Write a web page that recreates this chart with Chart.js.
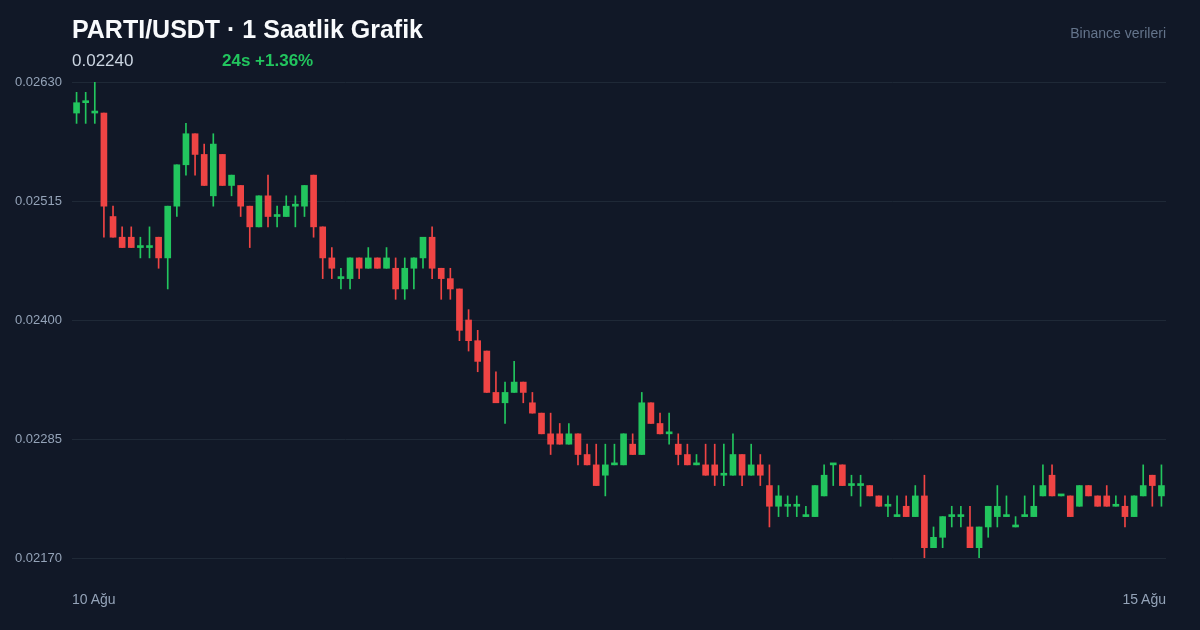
<!DOCTYPE html>
<html lang="tr">
<head>
  <meta charset="UTF-8" />
  <title>PARTI/USDT · 1 Saatlik Grafik</title>
  <script src="https://cdn.jsdelivr.net/npm/chart.js"></script>
  <style>
    body {
      margin: 0;
      width: 1200px;
      height: 630px;
      overflow: hidden;
      position: relative;
      background: #111827;
      font-family: "Liberation Sans", Arial, sans-serif;
    }
    #candles { position: absolute; left: 0; top: 0; }
    .txt { position: absolute; line-height: 1; white-space: nowrap; }
    .title { left: 72px; top: 17px; font-size: 25px; font-weight: bold; color: #f8fafc; }
    .price { left: 72px; top: 52px; font-size: 17px; color: #cbd5e1; }
    .change { left: 222px; top: 52px; font-size: 17px; font-weight: bold; color: #22c55e; }
    .source { right: 34px; top: 26px; font-size: 14px; color: #64748b; }
    .date { top: 592px; font-size: 14px; color: #94a3b8; }
  </style>
</head>
<body>
  <canvas id="candles" width="1200" height="630"></canvas>

  <div class="txt title">PARTI/USDT · 1 Saatlik Grafik</div>
  <div class="txt price">0.02240</div>
  <div class="txt change">24s +1.36%</div>
  <div class="txt source">Binance verileri</div>
  <div class="txt date" style="left:72px">10 Ağu</div>
  <div class="txt date" style="right:34px">15 Ağu</div>

  <script>
    // hourly candles, 10 Ağu -> 15 Ağu
    const opens = [
      0.0260,0.0261,0.0260,0.0260,0.0250,0.0248,0.0248,0.0247,0.0247,0.0248,
      0.0246,0.0251,0.0255,0.0258,0.0256,0.0252,0.0256,0.0253,0.0253,0.0251,
      0.0249,0.0252,0.0250,0.0250,0.0251,0.0251,0.0254,0.0249,0.0246,0.0244,
      0.0244,0.0246,0.0245,0.0246,0.0245,0.0245,0.0243,0.0245,0.0246,0.0248,
      0.0245,0.0244,0.0243,0.0240,0.0238,0.0237,0.0233,0.0232,0.0233,0.0234,
      0.0232,0.0231,0.0229,0.0229,0.0228,0.0229,0.0227,0.0226,0.0225,0.0226,
      0.0226,0.0228,0.0227,0.0232,0.0230,0.0229,0.0228,0.0227,0.0226,0.0226,
      0.0226,0.0225,0.0225,0.0227,0.0225,0.0226,0.0224,0.0222,0.0222,0.0222,
      0.0221,0.0221,0.0223,0.0226,0.0226,0.0224,0.0224,0.0224,0.0223,0.0222,
      0.0221,0.0222,0.0221,0.0223,0.0218,0.0219,0.0221,0.0221,0.0220,0.0218,
      0.0220,0.0221,0.0221,0.0220,0.0221,0.0221,0.0223,0.0225,0.0223,0.0223,
      0.0222,0.0224,0.0223,0.0223,0.0222,0.0222,0.0221,0.0223,0.0225,0.0223
    ];
    const highs = [
      0.0262,0.0262,0.0263,0.0260,0.0251,0.0249,0.0249,0.0248,0.0249,0.0248,
      0.0251,0.0255,0.0259,0.0258,0.0257,0.0258,0.0256,0.0254,0.0253,0.0251,
      0.0252,0.0254,0.0251,0.0252,0.0252,0.0253,0.0254,0.0249,0.0247,0.0245,
      0.0246,0.0246,0.0247,0.0246,0.0247,0.0246,0.0246,0.0246,0.0248,0.0249,
      0.0245,0.0245,0.0243,0.0241,0.0239,0.0237,0.0235,0.0234,0.0236,0.0234,
      0.0233,0.0231,0.0231,0.0230,0.0230,0.0229,0.0228,0.0228,0.0228,0.0228,
      0.0229,0.0229,0.0233,0.0232,0.0231,0.0231,0.0229,0.0228,0.0227,0.0228,
      0.0228,0.0228,0.0229,0.0227,0.0228,0.0227,0.0226,0.0224,0.0223,0.0223,
      0.0222,0.0224,0.0226,0.0226,0.0226,0.0225,0.0225,0.0224,0.0223,0.0223,
      0.0223,0.0223,0.0224,0.0225,0.0220,0.0221,0.0222,0.0222,0.0222,0.0220,
      0.0222,0.0224,0.0223,0.0221,0.0223,0.0224,0.0226,0.0226,0.0223,0.0223,
      0.0224,0.0224,0.0223,0.0224,0.0223,0.0223,0.0223,0.0226,0.0225,0.0226
    ];
    const lows = [
      0.0259,0.0259,0.0259,0.0248,0.0248,0.0247,0.0247,0.0246,0.0246,0.0245,
      0.0243,0.0250,0.0254,0.0254,0.0253,0.0251,0.0253,0.0252,0.0250,0.0247,
      0.0249,0.0249,0.0249,0.0250,0.0249,0.0250,0.0248,0.0244,0.0244,0.0243,
      0.0243,0.0244,0.0245,0.0245,0.0245,0.0242,0.0242,0.0243,0.0245,0.0244,
      0.0242,0.0242,0.0238,0.0237,0.0235,0.0233,0.0232,0.0230,0.0233,0.0232,
      0.0231,0.0229,0.0227,0.0228,0.0228,0.0226,0.0226,0.0224,0.0223,0.0226,
      0.0226,0.0227,0.0227,0.0230,0.0229,0.0228,0.0226,0.0226,0.0226,0.0225,
      0.0224,0.0224,0.0225,0.0224,0.0225,0.0224,0.0220,0.0221,0.0221,0.0221,
      0.0221,0.0221,0.0223,0.0224,0.0224,0.0223,0.0222,0.0223,0.0222,0.0221,
      0.0221,0.0221,0.0221,0.0217,0.0218,0.0218,0.0220,0.0220,0.0218,0.0217,
      0.0219,0.0220,0.0221,0.0220,0.0221,0.0221,0.0223,0.0223,0.0223,0.0221,
      0.0222,0.0223,0.0222,0.0222,0.0222,0.0220,0.0221,0.0223,0.0222,0.0222
    ];
    const closes = [
      0.0261,0.0261,0.0260,0.0251,0.0248,0.0247,0.0247,0.0247,0.0247,0.0246,
      0.0251,0.0255,0.0258,0.0256,0.0253,0.0257,0.0253,0.0254,0.0251,0.0249,
      0.0252,0.0250,0.0250,0.0251,0.0251,0.0253,0.0249,0.0246,0.0245,0.0244,
      0.0246,0.0245,0.0246,0.0245,0.0246,0.0243,0.0245,0.0246,0.0248,0.0245,
      0.0244,0.0243,0.0239,0.0238,0.0236,0.0233,0.0232,0.0233,0.0234,0.0233,
      0.0231,0.0229,0.0228,0.0228,0.0229,0.0227,0.0226,0.0224,0.0226,0.0226,
      0.0229,0.0227,0.0232,0.0230,0.0229,0.0229,0.0227,0.0226,0.0226,0.0225,
      0.0225,0.0225,0.0227,0.0225,0.0226,0.0225,0.0222,0.0223,0.0222,0.0222,
      0.0221,0.0224,0.0225,0.0226,0.0224,0.0224,0.0224,0.0223,0.0222,0.0222,
      0.0221,0.0221,0.0223,0.0218,0.0219,0.0221,0.0221,0.0221,0.0218,0.0220,
      0.0222,0.0222,0.0221,0.0220,0.0221,0.0222,0.0224,0.0223,0.0223,0.0221,
      0.0224,0.0223,0.0222,0.0222,0.0222,0.0221,0.0223,0.0224,0.0224,0.0224
    ];
    const yTicks = [0.0217, 0.02285, 0.024, 0.02515, 0.0263];

    const UP = '#22c55e';
    const DOWN = '#ef4444';
    const FONT = '"Liberation Sans", Arial, sans-serif';

    const labels = opens.map((_, i) =>
      (10 + Math.floor(i / 24)) + ' Ağu ' + String(i % 24).padStart(2, '0') + ':00');
    const colors = opens.map((o, i) => closes[i] >= o ? UP : DOWN);

    new Chart(document.getElementById('candles'), {
      type: 'bar',
      data: {
        labels: labels,
        datasets: [
          {
            label: 'body',
            data: opens.map((o, i) => [o, closes[i]]),
            backgroundColor: colors,
            barThickness: 6,
            minBarLength: 2,
            grouped: false,
            order: 0
          },
          {
            label: 'wick',
            data: lows.map((l, i) => [l, highs[i]]),
            backgroundColor: colors,
            barThickness: 1,
            grouped: false,
            order: 1
          }
        ]
      },
      options: {
        responsive: false,
        animation: false,
        devicePixelRatio: 1,
        layout: { padding: { left: 0, top: 82, right: 34, bottom: 72 } },
        plugins: {
          legend: { display: false },
          tooltip: { enabled: false }
        },
        scales: {
          x: {
            offset: true,
            grid: { display: false, drawTicks: false },
            border: { display: false },
            ticks: { display: false },
            afterFit: s => { s.height = 0; }
          },
          y: {
            min: yTicks[0],
            max: yTicks[yTicks.length - 1],
            grid: { color: '#1f2937', drawTicks: false },
            border: { display: false },
            ticks: {
              color: '#94a3b8',
              font: { family: FONT, size: 13 },
              padding: 10,
              callback: v => Number(v).toFixed(5)
            },
            afterBuildTicks: s => { s.ticks = yTicks.map(v => ({ value: v })); },
            afterFit: s => { s.width = 72; }
          }
        }
      }
    });
  </script>
</body>
</html>
